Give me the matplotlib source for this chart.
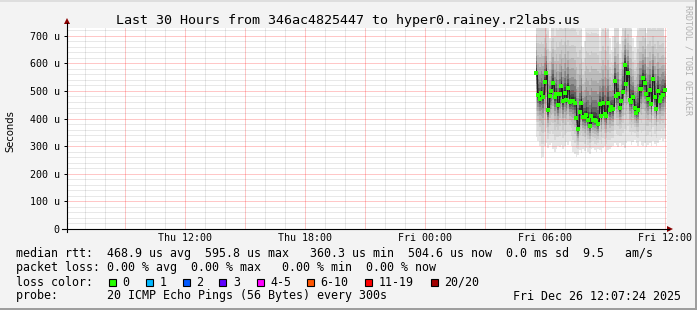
import matplotlib
matplotlib.use('Agg')
import matplotlib.pyplot as plt
import numpy as np
from matplotlib.lines import Line2D
from matplotlib.patches import Rectangle, Polygon

W, H = 697, 310

# ---------------- data ----------------
x_tick_hours = [12, 18, 24, 30, 36]          # hours since Thu 00:00
x_tick_labels = ['Thu 12:00', 'Thu 18:00', 'Fri 00:00', 'Fri 06:00', 'Fri 12:00']
y_tick_values = [0, 100, 200, 300, 400, 500, 600, 700]   # microseconds
y_tick_labels = ['0', '100 u', '200 u', '300 u', '400 u', '500 u', '600 u', '700 u']
x_start, x_end = 6.12, 36.12                 # 30 hour window
first_sample_hour = 29.55                    # Fri 05:33
sample_step_hours = 5 / 60                   # every 300 s

median_us = [566, 487, 472, 492, 477, 533, 566, 431, 482, 499,
             528, 477, 489, 448, 489, 518, 463, 492, 467, 510,
             460, 465, 465, 455, 402, 361, 425, 458, 407, 407,
             413, 395, 373, 409, 395, 395, 392, 380, 453, 409,
             455, 417, 409, 455, 431, 441, 434, 535, 482, 489,
             438, 463, 498, 593, 525, 566, 467, 461, 479, 437,
             421, 431, 506, 506, 547, 528, 489, 472, 504, 453,
             545, 479, 434, 501, 465, 479, 485, 505]

low_us = [335, 320, 300, 256, 262, 300, 310, 295, 305, 312,
          290, 280, 288, 300, 296, 305, 290, 300, 315, 305,
          320, 300, 280, 270, 262, 268, 285, 275, 290, 282,
          295, 280, 270, 288, 295, 285, 278, 290, 285, 280,
          292, 300, 278, 285, 290, 296, 300, 310, 305, 298,
          310, 300, 305, 295, 312, 318, 320, 305, 315, 322,
          310, 300, 318, 305, 300, 312, 296, 305, 310, 300,
          318, 308, 300, 312, 322, 330, 318, 325]

high_us = [800, 800, 800, 800, 800, 800, 800, 800, 690, 800,
           800, 760, 800, 800, 800, 800, 800, 800, 800, 800,
           800, 800, 800, 800, 800, 800, 800, 800, 660, 680,
           800, 800, 800, 800, 800, 800, 800, 800, 700, 800,
           800, 800, 800, 800, 690, 650, 700, 800, 800, 800,
           670, 700, 800, 800, 800, 800, 800, 800, 690, 660,
           700, 800, 800, 800, 800, 800, 710, 800, 800, 800,
           800, 800, 800, 800, 800, 800, 800, 700]

title = 'Last 30 Hours from 346ac4825447 to hyper0.rainey.r2labs.us'
legend_line1 = 'median rtt:  468.9 us avg  595.8 us max   360.3 us min  504.6 us now  0.0 ms sd  9.5   am/s'
legend_line2 = 'packet loss: 0.00 % avg  0.00 % max   0.00 % min  0.00 % now'
legend_line3 = 'loss color:'
legend_line4 = 'probe:       20 ICMP Echo Pings (56 Bytes) every 300s'
timestamp = 'Fri Dec 26 12:07:24 2025'
loss_labels = ['0', '1', '2', '3', '4-5', '6-10', '11-19', '20/20']
loss_colors = ['#26ff00', '#00b8ff', '#0059ff', '#5e00ff', '#ff00ff', '#ff5500', '#ff0000', '#a10000']

# ---------------- figure ----------------
MONO = 'DejaVu Sans Mono'
fig = plt.figure(figsize=(W / 100, H / 100), dpi=100)
fig.patch.set_facecolor('#f3f3f3')


def P(x, y):
    return (x / W, 1 - y / H)


# frame shading
fig.add_artist(Rectangle(P(0, 2), 2 / W, (H - 2) / H, transform=fig.transFigure, color='#dedede', lw=0))
fig.add_artist(Rectangle(P(0, 2), 1, 2 / H, transform=fig.transFigure, color='#dedede', lw=0))
fig.add_artist(Rectangle(P(0, H), 1, 2 / H, transform=fig.transFigure, color='#9e9e9e', lw=0))
fig.add_artist(Rectangle(P(W - 2, H), 2 / W, 1, transform=fig.transFigure, color='#9e9e9e', lw=0))

ax_left, ax_right, ax_top, ax_bottom = 67, 667, 28, 229
ax = fig.add_axes([ax_left / W, 1 - ax_bottom / H, (ax_right - ax_left) / W, (ax_bottom - ax_top) / H])
ax.set_facecolor('white')
ax.set_xlim(x_start, x_end)
ax.set_ylim(0, 728)
for s in ax.spines.values():
    s.set_visible(False)

med = np.array(median_us, dtype=float)
lo = np.array(low_us, dtype=float)
hi = np.array(high_us, dtype=float)
n = len(med)
t = first_sample_hour + sample_step_hours * np.arange(n)
edges = np.append(t, t[-1] + sample_step_hours)

# smoke bands (outer -> inner)
fracs = [1.0, 0.78, 0.6, 0.46, 0.35, 0.26, 0.18, 0.12, 0.07, 0.035]
greys = [0.9, 0.85, 0.8, 0.74, 0.67, 0.58, 0.48, 0.38, 0.28, 0.18]
for f, g in zip(fracs, greys):
    up = med + (hi - med) * f
    dn = med - (med - lo) * f
    ax.fill_between(edges, np.append(dn, dn[-1]), np.append(up, up[-1]),
                    step='post', color=str(g), lw=0, zorder=1)

# grid (dotted in the original; drawn as faint translucent lines)
minor_kw = dict(color='black', alpha=0.09, lw=0.72, zorder=2, snap=True)
major_kw = dict(color='#ff0000', alpha=0.22, lw=0.72, zorder=2, snap=True)
for h in range(7, 37):
    ax.axvline(h, **(major_kw if h % 3 == 0 else minor_kw))
for v in range(20, 730, 20):
    ax.axhline(v, **(major_kw if v % 100 == 0 else minor_kw))

# median line + loss coloured markers
ax.step(edges, np.append(med, med[-1]), where='post', color='#202020', lw=0.72, zorder=3)
ax.plot(t + sample_step_hours / 2, med, ls='none', marker='s', ms=2.3, mew=0,
        color=loss_colors[0], zorder=4)

# ticks
ax.set_xticks(x_tick_hours)
ax.set_xticklabels(x_tick_labels, fontfamily=MONO, fontsize=7.2)
ax.set_yticks(y_tick_values)
ax.set_yticklabels(y_tick_labels, fontfamily=MONO, fontsize=7.2)
ax.tick_params(axis='x', length=0, pad=3.0, colors='black')
ax.tick_params(axis='y', length=3 * 0.72, width=0.72, pad=3.2, colors='black')

# axes lines with arrows
fig.add_artist(Line2D([ax_left / W] * 2, [P(0, 232)[1], P(0, 23)[1]], transform=fig.transFigure, color='black', lw=0.8))
fig.add_artist(Line2D([P(62, 0)[0], P(669, 0)[0]], [P(0, ax_bottom)[1]] * 2, transform=fig.transFigure, color='black', lw=0.8))
fig.add_artist(Polygon([P(64, 24), P(70, 24), P(67, 18)], closed=True, transform=fig.transFigure, color='#8b0000', lw=0))
fig.add_artist(Polygon([P(667, 226), P(667, 232), P(673, 229)], closed=True, transform=fig.transFigure, color='#8b0000', lw=0))

# texts
fig.text(*P(348, 24), title, ha='center', va='baseline', fontfamily=MONO, fontsize=9.6, color='black')
fig.text(*P(10.5, 131), 'Seconds', ha='center', va='center', rotation=90, fontfamily='DejaVu Sans', fontsize=7.2)
fig.text(*P(688, 5), 'RRDTOOL / TOBI OETIKER', ha='center', va='top', rotation=270,
         fontfamily=MONO, fontsize=6.0, color='#b0b0b0')

LEG_FS = 8.4
fig.text(*P(16, 257.5), legend_line1, ha='left', va='baseline', fontfamily=MONO, fontsize=LEG_FS)
fig.text(*P(16, 271.5), legend_line2, ha='left', va='baseline', fontfamily=MONO, fontsize=LEG_FS)
fig.text(*P(16, 285.5), legend_line3, ha='left', va='baseline', fontfamily=MONO, fontsize=LEG_FS)
fig.text(*P(16, 299.5), legend_line4, ha='left', va='baseline', fontfamily=MONO, fontsize=LEG_FS)
fig.text(*P(513, 299.5), timestamp, ha='left', va='baseline', fontfamily=MONO, fontsize=LEG_FS)

box_x = [108.7, 145.7, 182.7, 219.3, 256.7, 306.7, 365.3, 430.7]
for bx, lab, col in zip(box_x, loss_labels, loss_colors):
    fig.add_artist(Rectangle(P(bx, 286), 7 / W, 7 / H, transform=fig.transFigure,
                             facecolor=col, edgecolor='black', lw=0.8))
    fig.text(*P(bx + 13.5, 285.5), lab, ha='left', va='baseline', fontfamily=MONO, fontsize=LEG_FS)

fig.savefig('out.png', dpi=100, facecolor=fig.get_facecolor())
